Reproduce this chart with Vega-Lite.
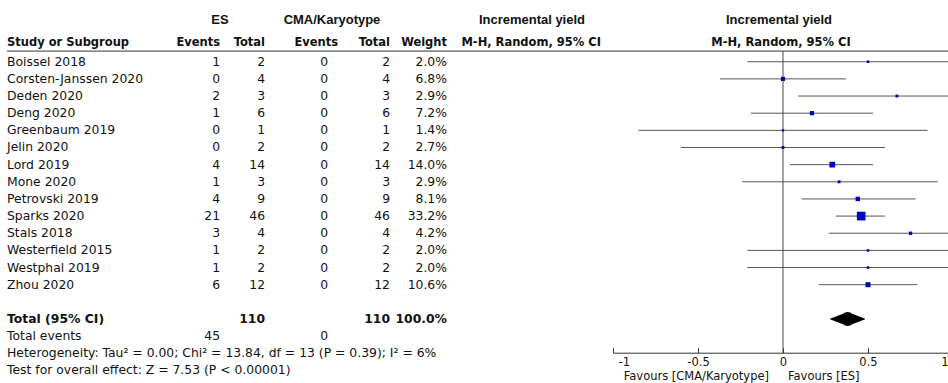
{
  "$schema": "https://vega.github.io/schema/vega-lite/v6.json",
  "background": "white",
  "padding": {"left": 6, "top": 0, "right": 0, "bottom": 0},
  "spacing": 0,
  "bounds": "flush",
  "config": {
    "view": {"stroke": null},
    "text": {"font": "DejaVu Sans", "fontSize": 12.4, "color": "#111"},
    "locale": {"number": {"decimal": ".", "thousands": ",", "grouping": [3], "currency": ["$", ""], "minus": "-"}}
  },
  "datasets": {
    "rows": [
      {"row": "Boissel 2018", "label": "Boissel 2018", "esE": 1, "esT": 2, "cmaE": 0, "cmaT": 2, "w": 0.020, "est": 0.50, "lo": -0.21, "hi": 1.21, "ci": "0.50 [-0.21, 1.21]"},
      {"row": "Corsten-Janssen 2020", "label": "Corsten-Janssen 2020", "esE": 0, "esT": 4, "cmaE": 0, "cmaT": 4, "w": 0.068, "est": 0.00, "lo": -0.37, "hi": 0.37, "ci": "0.00 [-0.37, 0.37]"},
      {"row": "Deden 2020", "label": "Deden 2020", "esE": 2, "esT": 3, "cmaE": 0, "cmaT": 3, "w": 0.029, "est": 0.67, "lo": 0.09, "hi": 1.24, "ci": "0.67 [0.09, 1.24]"},
      {"row": "Deng 2020", "label": "Deng 2020", "esE": 1, "esT": 6, "cmaE": 0, "cmaT": 6, "w": 0.072, "est": 0.17, "lo": -0.19, "hi": 0.53, "ci": "0.17 [-0.19, 0.53]"},
      {"row": "Greenbaum 2019", "label": "Greenbaum 2019", "esE": 0, "esT": 1, "cmaE": 0, "cmaT": 1, "w": 0.014, "est": 0.00, "lo": -0.85, "hi": 0.85, "ci": "0.00 [-0.85, 0.85]"},
      {"row": "Jelin 2020", "label": "Jelin 2020", "esE": 0, "esT": 2, "cmaE": 0, "cmaT": 2, "w": 0.027, "est": 0.00, "lo": -0.60, "hi": 0.60, "ci": "0.00 [-0.60, 0.60]"},
      {"row": "Lord 2019", "label": "Lord 2019", "esE": 4, "esT": 14, "cmaE": 0, "cmaT": 14, "w": 0.140, "est": 0.29, "lo": 0.04, "hi": 0.53, "ci": "0.29 [0.04, 0.53]"},
      {"row": "Mone 2020", "label": "Mone 2020", "esE": 1, "esT": 3, "cmaE": 0, "cmaT": 3, "w": 0.029, "est": 0.33, "lo": -0.24, "hi": 0.91, "ci": "0.33 [-0.24, 0.91]"},
      {"row": "Petrovski 2019", "label": "Petrovski 2019", "esE": 4, "esT": 9, "cmaE": 0, "cmaT": 9, "w": 0.081, "est": 0.44, "lo": 0.11, "hi": 0.78, "ci": "0.44 [0.11, 0.78]"},
      {"row": "Sparks 2020", "label": "Sparks 2020", "esE": 21, "esT": 46, "cmaE": 0, "cmaT": 46, "w": 0.332, "est": 0.46, "lo": 0.31, "hi": 0.60, "ci": "0.46 [0.31, 0.60]"},
      {"row": "Stals 2018", "label": "Stals 2018", "esE": 3, "esT": 4, "cmaE": 0, "cmaT": 4, "w": 0.042, "est": 0.75, "lo": 0.27, "hi": 1.23, "ci": "0.75 [0.27, 1.23]"},
      {"row": "Westerfield 2015", "label": "Westerfield 2015", "esE": 1, "esT": 2, "cmaE": 0, "cmaT": 2, "w": 0.020, "est": 0.50, "lo": -0.21, "hi": 1.21, "ci": "0.50 [-0.21, 1.21]"},
      {"row": "Westphal 2019", "label": "Westphal 2019", "esE": 1, "esT": 2, "cmaE": 0, "cmaT": 2, "w": 0.020, "est": 0.50, "lo": -0.21, "hi": 1.21, "ci": "0.50 [-0.21, 1.21]"},
      {"row": "Zhou 2020", "label": "Zhou 2020", "esE": 6, "esT": 12, "cmaE": 0, "cmaT": 12, "w": 0.106, "est": 0.50, "lo": 0.21, "hi": 0.79, "ci": "0.50 [0.21, 0.79]"},
      {"row": "Total (95% CI)", "label": "Total (95% CI)", "esT": 110, "cmaT": 110, "w": 1.0, "est": 0.38, "lo": 0.28, "hi": 0.48, "ci": "0.38 [0.28, 0.48]"},
      {"row": "Total events", "label": "Total events", "esE": 45, "cmaE": 0},
      {"row": "het", "label": "Heterogeneity: Tau² = 0.00; Chi² = 13.84, df = 13 (P = 0.39); I² = 6%"},
      {"row": "test", "label": "Test for overall effect: Z = 7.53 (P < 0.00001)"}
    ]
  },
  "data": {"name": "rows"},
  "hconcat": [
    {
      "width": 169, "height": 377.3,
      "layer": [
        {"data": {"values": [{"row": "h2", "label": "Study or Subgroup"}]},
         "mark": {"type": "text", "align": "left", "fontWeight": "bold", "fontSize": 11.5, "dy": -1.9},
         "encoding": {"x": {"value": 0}, "y": {"field": "row", "type": "ordinal", "axis": null, "scale": {"type": "point", "domain": ["h1","h2","Boissel 2018","Corsten-Janssen 2020","Deden 2020","Deng 2020","Greenbaum 2019","Jelin 2020","Lord 2019","Mone 2020","Petrovski 2019","Sparks 2020","Stals 2018","Westerfield 2015","Westphal 2019","Zhou 2020","blank","Total (95% CI)","Total events","het","test"], "padding": 1, "align": 0.8, "round": false}}, "text": {"field": "label"}}},
        {"data": {"values": [{"row": "h2"}]},
         "mark": {"type": "rule", "yOffset": 6.5, "color": "#333", "strokeWidth": 1},
         "encoding": {"y": {"field": "row", "type": "ordinal", "axis": null}}},
        {"mark": {"type": "text", "align": "left", "fontWeight": {"expr": "datum.row === 'Total (95% CI)' ? 'bold' : 'normal'"}},
         "encoding": {"x": {"value": 0}, "y": {"field": "row", "type": "ordinal", "axis": null}, "text": {"field": "label"}}}
      ]
    },
    {
      "width": 44, "height": 377.3,
      "layer": [
        {"data": {"values": [{"row": "h1", "label": "ES"}]},
         "mark": {"type": "text", "align": "center", "font": "Liberation Sans", "fontSize": 13, "fontWeight": "bold", "dy": -7.4},
         "encoding": {"x": {"value": "width"}, "y": {"field": "row", "type": "ordinal", "axis": null, "scale": {"type": "point", "domain": ["h1","h2","Boissel 2018","Corsten-Janssen 2020","Deden 2020","Deng 2020","Greenbaum 2019","Jelin 2020","Lord 2019","Mone 2020","Petrovski 2019","Sparks 2020","Stals 2018","Westerfield 2015","Westphal 2019","Zhou 2020","blank","Total (95% CI)","Total events","het","test"], "padding": 1, "align": 0.8, "round": false}}, "text": {"field": "label"}}},
        {"data": {"values": [{"row": "h2", "label": "Events"}]},
         "mark": {"type": "text", "align": "right", "fontWeight": "bold", "fontSize": 11.5, "dy": -1.9},
         "encoding": {"x": {"value": "width"}, "y": {"field": "row", "type": "ordinal", "axis": null}, "text": {"field": "label"}}},
        {"data": {"values": [{"row": "h2"}]},
         "mark": {"type": "rule", "yOffset": 6.5, "color": "#333", "strokeWidth": 1},
         "encoding": {"y": {"field": "row", "type": "ordinal", "axis": null}}},
        {"transform": [{"filter": {"field": "esE", "valid": true}}],
         "mark": {"type": "text", "align": "right"},
         "encoding": {"x": {"value": "width"}, "y": {"field": "row", "type": "ordinal", "axis": null}, "text": {"field": "esE", "type": "quantitative"}}}
      ]
    },
    {
      "width": 45, "height": 377.3,
      "layer": [
        {"data": {"values": [{"row": "h2", "label": "Total"}]},
         "mark": {"type": "text", "align": "right", "fontWeight": "bold", "fontSize": 11.5, "dy": -1.9},
         "encoding": {"x": {"value": "width"}, "y": {"field": "row", "type": "ordinal", "axis": null, "scale": {"type": "point", "domain": ["h1","h2","Boissel 2018","Corsten-Janssen 2020","Deden 2020","Deng 2020","Greenbaum 2019","Jelin 2020","Lord 2019","Mone 2020","Petrovski 2019","Sparks 2020","Stals 2018","Westerfield 2015","Westphal 2019","Zhou 2020","blank","Total (95% CI)","Total events","het","test"], "padding": 1, "align": 0.8, "round": false}}, "text": {"field": "label"}}},
        {"data": {"values": [{"row": "h2"}]},
         "mark": {"type": "rule", "yOffset": 6.5, "color": "#333", "strokeWidth": 1},
         "encoding": {"y": {"field": "row", "type": "ordinal", "axis": null}}},
        {"transform": [{"filter": {"field": "esT", "valid": true}}],
         "mark": {"type": "text", "align": "right", "fontWeight": {"expr": "datum.row === 'Total (95% CI)' ? 'bold' : 'normal'"}},
         "encoding": {"x": {"value": "width"}, "y": {"field": "row", "type": "ordinal", "axis": null}, "text": {"field": "esT", "type": "quantitative"}}}
      ]
    },
    {
      "width": 63, "height": 377.3,
      "layer": [
        {"data": {"values": [{"row": "h1", "label": "CMA/Karyotype"}]},
         "mark": {"type": "text", "align": "center", "font": "Liberation Sans", "fontSize": 13, "fontWeight": "bold", "dy": -7.4, "dx": 4},
         "encoding": {"x": {"value": "width"}, "y": {"field": "row", "type": "ordinal", "axis": null, "scale": {"type": "point", "domain": ["h1","h2","Boissel 2018","Corsten-Janssen 2020","Deden 2020","Deng 2020","Greenbaum 2019","Jelin 2020","Lord 2019","Mone 2020","Petrovski 2019","Sparks 2020","Stals 2018","Westerfield 2015","Westphal 2019","Zhou 2020","blank","Total (95% CI)","Total events","het","test"], "padding": 1, "align": 0.8, "round": false}}, "text": {"field": "label"}}},
        {"data": {"values": [{"row": "h2", "label": "Events"}]},
         "mark": {"type": "text", "align": "right", "fontWeight": "bold", "fontSize": 11.5, "dy": -1.9, "dx": 10},
         "encoding": {"x": {"value": "width"}, "y": {"field": "row", "type": "ordinal", "axis": null}, "text": {"field": "label"}}},
        {"data": {"values": [{"row": "h2"}]},
         "mark": {"type": "rule", "yOffset": 6.5, "color": "#333", "strokeWidth": 1},
         "encoding": {"y": {"field": "row", "type": "ordinal", "axis": null}}},
        {"transform": [{"filter": {"field": "cmaE", "valid": true}}],
         "mark": {"type": "text", "align": "right"},
         "encoding": {"x": {"value": "width"}, "y": {"field": "row", "type": "ordinal", "axis": null}, "text": {"field": "cmaE", "type": "quantitative"}}}
      ]
    },
    {
      "width": 62, "height": 377.3,
      "layer": [
        {"data": {"values": [{"row": "h2", "label": "Total"}]},
         "mark": {"type": "text", "align": "right", "fontWeight": "bold", "fontSize": 11.5, "dy": -1.9},
         "encoding": {"x": {"value": "width"}, "y": {"field": "row", "type": "ordinal", "axis": null, "scale": {"type": "point", "domain": ["h1","h2","Boissel 2018","Corsten-Janssen 2020","Deden 2020","Deng 2020","Greenbaum 2019","Jelin 2020","Lord 2019","Mone 2020","Petrovski 2019","Sparks 2020","Stals 2018","Westerfield 2015","Westphal 2019","Zhou 2020","blank","Total (95% CI)","Total events","het","test"], "padding": 1, "align": 0.8, "round": false}}, "text": {"field": "label"}}},
        {"data": {"values": [{"row": "h2"}]},
         "mark": {"type": "rule", "yOffset": 6.5, "color": "#333", "strokeWidth": 1},
         "encoding": {"y": {"field": "row", "type": "ordinal", "axis": null}}},
        {"transform": [{"filter": {"field": "cmaT", "valid": true}}],
         "mark": {"type": "text", "align": "right", "fontWeight": {"expr": "datum.row === 'Total (95% CI)' ? 'bold' : 'normal'"}},
         "encoding": {"x": {"value": "width"}, "y": {"field": "row", "type": "ordinal", "axis": null}, "text": {"field": "cmaT", "type": "quantitative"}}}
      ]
    },
    {
      "width": 57, "height": 377.3,
      "layer": [
        {"data": {"values": [{"row": "h2", "label": "Weight"}]},
         "mark": {"type": "text", "align": "right", "fontWeight": "bold", "fontSize": 11.5, "dy": -1.9},
         "encoding": {"x": {"value": "width"}, "y": {"field": "row", "type": "ordinal", "axis": null, "scale": {"type": "point", "domain": ["h1","h2","Boissel 2018","Corsten-Janssen 2020","Deden 2020","Deng 2020","Greenbaum 2019","Jelin 2020","Lord 2019","Mone 2020","Petrovski 2019","Sparks 2020","Stals 2018","Westerfield 2015","Westphal 2019","Zhou 2020","blank","Total (95% CI)","Total events","het","test"], "padding": 1, "align": 0.8, "round": false}}, "text": {"field": "label"}}},
        {"data": {"values": [{"row": "h2"}]},
         "mark": {"type": "rule", "yOffset": 6.5, "color": "#333", "strokeWidth": 1},
         "encoding": {"y": {"field": "row", "type": "ordinal", "axis": null}}},
        {"transform": [{"filter": {"field": "w", "valid": true}}],
         "mark": {"type": "text", "align": "right", "fontWeight": {"expr": "datum.row === 'Total (95% CI)' ? 'bold' : 'normal'"}},
         "encoding": {"x": {"value": "width"}, "y": {"field": "row", "type": "ordinal", "axis": null}, "text": {"field": "w", "type": "quantitative", "format": ".1%"}}}
      ]
    },
    {
      "width": 154, "height": 377.3,
      "layer": [
        {"data": {"values": [{"row": "h1", "label": "Incremental yield"}]},
         "mark": {"type": "text", "align": "right", "font": "Liberation Sans", "fontSize": 13, "fontWeight": "bold", "dy": -7.4, "dx": -16},
         "encoding": {"x": {"value": "width"}, "y": {"field": "row", "type": "ordinal", "axis": null, "scale": {"type": "point", "domain": ["h1","h2","Boissel 2018","Corsten-Janssen 2020","Deden 2020","Deng 2020","Greenbaum 2019","Jelin 2020","Lord 2019","Mone 2020","Petrovski 2019","Sparks 2020","Stals 2018","Westerfield 2015","Westphal 2019","Zhou 2020","blank","Total (95% CI)","Total events","het","test"], "padding": 1, "align": 0.8, "round": false}}, "text": {"field": "label"}}},
        {"data": {"values": [{"row": "h2", "label": "M-H, Random, 95% CI"}]},
         "mark": {"type": "text", "align": "right", "fontWeight": "bold", "fontSize": 11.5, "dy": -1.9},
         "encoding": {"x": {"value": "width"}, "y": {"field": "row", "type": "ordinal", "axis": null}, "text": {"field": "label"}}},
        {"data": {"values": [{"row": "h2"}]},
         "mark": {"type": "rule", "yOffset": 6.5, "color": "#333", "strokeWidth": 1},
         "encoding": {"y": {"field": "row", "type": "ordinal", "axis": null}}},
        {"transform": [{"filter": {"field": "ci", "valid": true}}],
         "mark": {"type": "text", "align": "right", "fontWeight": {"expr": "datum.row === 'Total (95% CI)' ? 'bold' : 'normal'"}},
         "encoding": {"x": {"value": "width"}, "y": {"field": "row", "type": "ordinal", "axis": null}, "text": {"field": "ci"}}}
      ]
    },
    {
      "width": 352, "height": 377.3,
      "layer": [
        {"transform": [{"filter": {"and": [{"field": "esE", "valid": true}, {"field": "est", "valid": true}]}}],
         "mark": {"type": "rule", "color": "#555", "strokeWidth": 1},
         "encoding": {
           "x": {"field": "lo", "type": "quantitative",
                 "scale": {"domain": [-1, 1], "range": [12, 352], "clamp": true, "nice": false, "zero": false},
                 "axis": {"orient": "bottom", "offset": -24.6, "values": [-1, -0.5, 0, 0.5, 1], "format": "~g", "title": null, "grid": false,
                          "domainColor": "#333", "tickColor": "#333", "tickSize": -5, "labelFlush": true, "labelFlushOffset": -5,
                          "labelFont": "DejaVu Sans", "labelFontSize": 11.5, "labelColor": "#111", "labelPadding": 9}},
           "x2": {"field": "hi"},
           "y": {"field": "row", "type": "ordinal", "axis": null, "scale": {"type": "point", "domain": ["h1","h2","Boissel 2018","Corsten-Janssen 2020","Deden 2020","Deng 2020","Greenbaum 2019","Jelin 2020","Lord 2019","Mone 2020","Petrovski 2019","Sparks 2020","Stals 2018","Westerfield 2015","Westphal 2019","Zhou 2020","blank","Total (95% CI)","Total events","het","test"], "padding": 1, "align": 0.8, "round": false}}
         }},
        {"data": {"values": [{"row": "h1", "label": "Incremental yield"}]},
         "mark": {"type": "text", "align": "center", "font": "Liberation Sans", "fontSize": 13, "fontWeight": "bold", "dy": -7.4, "dx": -4},
         "encoding": {"x": {"datum": 0}, "y": {"field": "row", "type": "ordinal", "axis": null}, "text": {"field": "label"}}},
        {"data": {"values": [{"row": "h2", "label": "M-H, Random, 95% CI"}]},
         "mark": {"type": "text", "align": "center", "fontWeight": "bold", "fontSize": 11.5, "dy": -1.9, "dx": -2},
         "encoding": {"x": {"datum": 0}, "y": {"field": "row", "type": "ordinal", "axis": null}, "text": {"field": "label"}}},
        {"data": {"values": [{"row": "h2"}]},
         "mark": {"type": "rule", "yOffset": 6.5, "color": "#333", "strokeWidth": 1},
         "encoding": {"y": {"field": "row", "type": "ordinal", "axis": null}}},
        {"data": {"values": [{"row": "h2", "row2": "het"}]},
         "mark": {"type": "rule", "yOffset": 6.5, "y2Offset": -0.5, "color": "#444", "strokeWidth": 1},
         "encoding": {"x": {"datum": 0}, "y": {"field": "row", "type": "ordinal", "axis": null}, "y2": {"field": "row2"}}},
        {"transform": [{"filter": {"and": [{"field": "esE", "valid": true}, {"field": "est", "valid": true}]}}],
         "mark": {"type": "point", "shape": "square", "filled": true, "color": "#0000c0", "opacity": 1},
         "encoding": {
           "x": {"field": "est", "type": "quantitative"},
           "y": {"field": "row", "type": "ordinal", "axis": null},
           "size": {"field": "w", "type": "quantitative", "scale": {"domain": [0, 0.332], "range": [2, 75]}, "legend": null}
         }},
        {"transform": [{"filter": {"field": "row", "equal": "Total (95% CI)"}}, {"fold": ["lo", "est", "hi"], "as": ["part", "xv"]}],
         "mark": {"type": "trail", "color": "#000"},
         "encoding": {
           "x": {"field": "xv", "type": "quantitative"},
           "y": {"field": "row", "type": "ordinal", "axis": null},
           "order": {"field": "xv", "type": "quantitative"},
           "size": {"condition": {"test": "datum.part === 'est'", "value": 14}, "value": 0}
         }},
        {"data": {"values": [{"row": "test", "label": "Favours [CMA/Karyotype]"}]},
         "mark": {"type": "text", "align": "right", "fontSize": 11.5, "dy": 6.5, "dx": -14},
         "encoding": {"x": {"datum": 0}, "y": {"field": "row", "type": "ordinal", "axis": null}, "text": {"field": "label"}}},
        {"data": {"values": [{"row": "test", "label": "Favours [ES]"}]},
         "mark": {"type": "text", "align": "left", "fontSize": 11.5, "dy": 6.5, "dx": 5},
         "encoding": {"x": {"datum": 0}, "y": {"field": "row", "type": "ordinal", "axis": null}, "text": {"field": "label"}}}
      ]
    }
  ]
}
